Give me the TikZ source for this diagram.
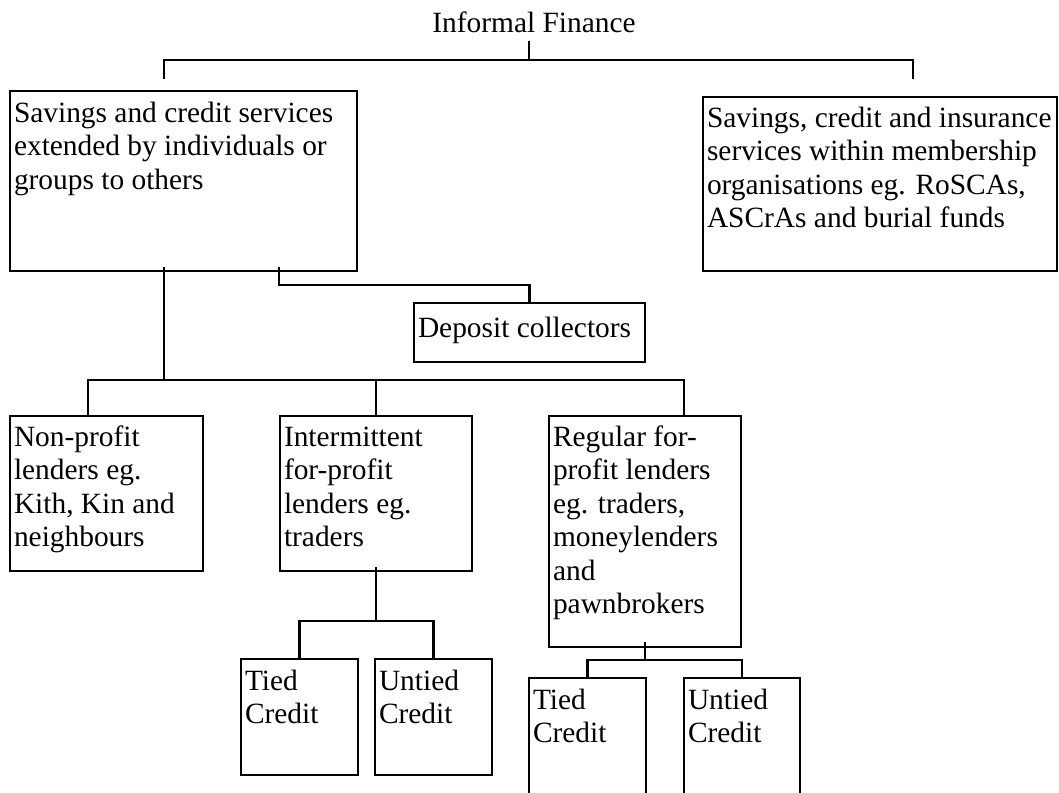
\documentclass[tikz,border=0pt]{standalone}
\usepackage{fontspec}
\setmainfont{Liberation Serif}
\newcommand{\fbx}[7]{% name, x1, y1, x2, y2, strut, text
  \pgfmathsetmacro\bw{#4-#2-8}\pgfmathsetmacro\bh{#5-#3}%
  \node[fbox, anchor=north west] (#1) at (#2,#3)
    {\parbox[c][\bh pt][t]{\bw pt}{\rule{0pt}{#6pt}#7}};}
\begin{document}
\begin{tikzpicture}[x=1pt,y=-1pt,
  fbox/.style={draw, line width=2.4pt, inner xsep=4pt, inner ysep=0pt, outer sep=0pt,
    font=\fontsize{29.4}{33.5}\selectfont},
  conn/.style={line width=2.2pt},
  lbl/.style={inner sep=0pt, font=\fontsize{29.4}{33.5}\selectfont}]
\useasboundingbox[fill=white] (0,0) rectangle (1059,792);
% title
\node[lbl, anchor=base] (top) at (534,33) {Informal Finance};
% boxes
\fbx{b1}{10}{91}{357}{271}{31}{\mbox{Savings and credit services}\\\mbox{extended by individuals or}\\\mbox{groups to others}}
\fbx{b2}{703}{97}{1057}{271}{30}{\mbox{Savings, credit and insurance}\\\mbox{services within membership}\\\mbox{organisations eg. RoSCAs,}\\\mbox{ASCrAs and burial funds}}
\fbx{dep}{414}{303}{645}{362}{34}{\mbox{Deposit collectors}}
\fbx{np}{10}{416}{203}{571}{30}{\mbox{Non-profit}\\\mbox{lenders eg.}\\\mbox{Kith, Kin and}\\\mbox{neighbours}}
\fbx{int}{280}{416}{472}{571}{30}{\mbox{Intermittent}\\\mbox{for-profit}\\\mbox{lenders eg.}\\\mbox{traders}}
\fbx{reg}{549}{416}{741}{647}{30}{\mbox{Regular for-}\\\mbox{profit lenders}\\\mbox{eg. traders,}\\\mbox{moneylenders}\\\mbox{and}\\\mbox{pawnbrokers}}
\fbx{t1}{241}{659}{358}{775}{31}{\mbox{Tied}\\\mbox{Credit}}
\fbx{u1}{375}{659}{492}{775}{31}{\mbox{Untied}\\\mbox{Credit}}
\fbx{t2}{529}{678}{646}{800}{31}{\mbox{Tied}\\\mbox{Credit}}
\fbx{u2}{684}{678}{800}{800}{31}{\mbox{Untied}\\\mbox{Credit}}
% coordinates
\coordinate (j0) at (529,60);
\coordinate (c1) at (164,60);
\coordinate (c2) at (913,60);
\coordinate (d1) at (164,79);
\coordinate (d2) at (913,79);
\coordinate (v1) at (164,380);
\coordinate (h1) at (88,380);
\coordinate (h2) at (684,380);
\coordinate (dj) at (279,285);
\coordinate (ib) at (376,621);
\coordinate (rb) at (645,660);
% connectors
\draw[conn] (529,41) -- (j0);
\draw[conn] (d1) -- (c1) -- (c2) -- (d2);
\draw[conn] ([yshift=4pt]v1 |- b1.south) -- (v1);
\draw[conn] (h1 |- np.north) -- (h1) -- (h2) -- (h2 |- reg.north);
\draw[conn] (int.north) -- (int.north |- h1);
\draw[conn] ([yshift=4pt]dj |- b1.south) -- (dj) -| (dep.north);
\draw[conn] ([yshift=4pt]int.south) -- (ib);
\draw[conn] (t1.north) |- (ib) -| (u1.north);
\draw[conn] ([yshift=5pt]rb |- reg.south) -- (rb);
\draw[conn] (t2.north) |- (rb) -| (u2.north);
\end{tikzpicture}
\end{document}
